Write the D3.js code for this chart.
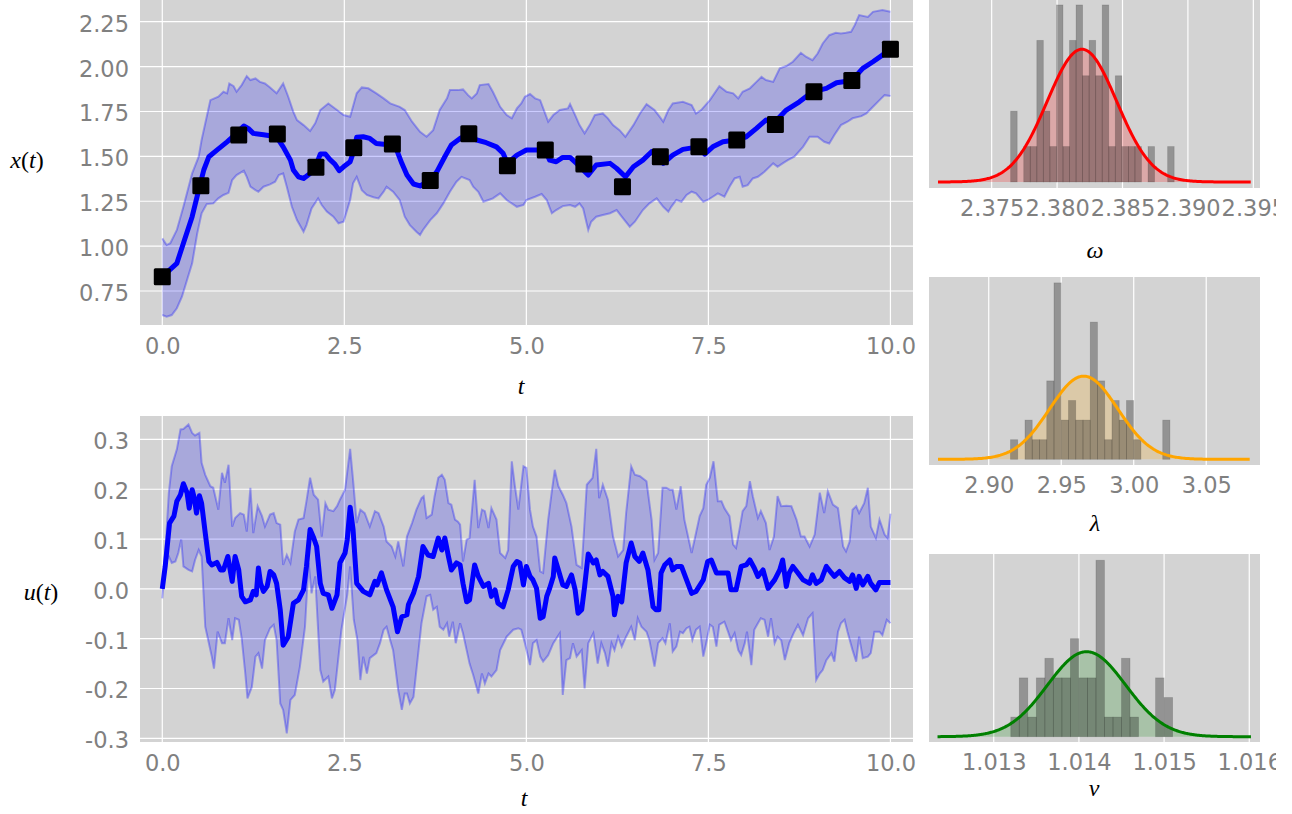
<!DOCTYPE html>
<html>
<head>
<meta charset="utf-8">
<script src="https://cdn.jsdelivr.net/npm/d3@7"></script>
<style>
  body { margin: 0; background: #fff; }
  svg { display: block; }
</style>
</head>
<body>
<svg id="chart" width="1292" height="814"></svg>
<script>
// ---- tick values ----
const tTicks = [0, 2.5, 5, 7.5, 10];
const xTicks = [0.75, 1.0, 1.25, 1.5, 1.75, 2.0, 2.25];
const uTicks = [-0.3, -0.2, -0.1, 0.0, 0.1, 0.2, 0.3];
const omegaTicks = [2.375, 2.380, 2.385, 2.390, 2.395];
const lambdaTicks = [2.90, 2.95, 3.00, 3.05];
const vTicks = [1.013, 1.014, 1.015, 1.016];

// ---- state x(t): [t, value] ----
const xMean = [[0,0.83],[0.2,0.904],[0.29,1.016],[0.41,1.164],[0.5,1.312],[0.57,1.424],[0.64,1.498],[0.75,1.535],[0.89,1.581],[1.02,1.628],[1.12,1.669],[1.18,1.656],[1.25,1.628],[1.39,1.62],[1.57,1.609],[1.66,1.553],[1.76,1.479],[1.8,1.424],[1.87,1.386],[1.94,1.377],[2.03,1.405],[2.1,1.439],[2.17,1.513],[2.24,1.513],[2.3,1.483],[2.37,1.457],[2.43,1.42],[2.49,1.442],[2.58,1.47],[2.63,1.53],[2.67,1.606],[2.76,1.609],[2.85,1.6],[2.94,1.572],[3.04,1.568],[3.15,1.568],[3.22,1.535],[3.29,1.461],[3.36,1.396],[3.45,1.346],[3.54,1.335],[3.68,1.368],[3.77,1.414],[3.88,1.498],[3.97,1.563],[4.09,1.6],[4.2,1.619],[4.32,1.591],[4.45,1.576],[4.59,1.553],[4.68,1.517],[4.74,1.461],[4.87,1.507],[5.0,1.535],[5.09,1.535],[5.26,1.535],[5.32,1.479],[5.41,1.47],[5.5,1.494],[5.6,1.494],[5.69,1.461],[5.85,1.396],[5.96,1.452],[6.15,1.461],[6.24,1.433],[6.36,1.386],[6.47,1.442],[6.6,1.479],[6.72,1.526],[6.83,1.498],[6.88,1.461],[7.01,1.507],[7.15,1.539],[7.36,1.553],[7.45,1.513],[7.56,1.553],[7.7,1.581],[7.88,1.591],[8.02,1.609],[8.16,1.656],[8.29,1.702],[8.41,1.69],[8.57,1.758],[8.75,1.804],[8.93,1.86],[9.12,1.879],[9.26,1.91],[9.47,1.923],[9.62,1.99],[9.76,2.027],[9.89,2.064],[10,2.097]];
const xUpper = [[0,1.043],[0.06,1.006],[0.11,1.016],[0.2,1.09],[0.29,1.219],[0.41,1.405],[0.5,1.498],[0.54,1.591],[0.66,1.813],[0.77,1.832],[0.84,1.86],[0.89,1.851],[0.92,1.906],[0.98,1.891],[1.02,1.86],[1.09,1.897],[1.16,1.947],[1.21,1.925],[1.28,1.934],[1.34,1.915],[1.41,1.906],[1.48,1.884],[1.57,1.851],[1.66,1.906],[1.73,1.832],[1.8,1.748],[1.85,1.702],[1.94,1.674],[2.03,1.641],[2.1,1.684],[2.17,1.758],[2.28,1.795],[2.4,1.758],[2.49,1.73],[2.58,1.721],[2.67,1.851],[2.74,1.884],[2.83,1.879],[2.94,1.851],[3.04,1.823],[3.13,1.795],[3.26,1.776],[3.33,1.758],[3.43,1.693],[3.54,1.637],[3.63,1.609],[3.72,1.646],[3.81,1.758],[3.91,1.823],[3.95,1.869],[4.06,1.869],[4.13,1.873],[4.2,1.841],[4.25,1.823],[4.32,1.851],[4.36,1.897],[4.48,1.903],[4.54,1.86],[4.64,1.776],[4.73,1.73],[4.8,1.712],[4.87,1.767],[4.93,1.795],[4.98,1.832],[5.05,1.847],[5.12,1.823],[5.19,1.813],[5.3,1.693],[5.37,1.73],[5.46,1.758],[5.57,1.767],[5.6,1.791],[5.67,1.73],[5.73,1.674],[5.8,1.628],[5.87,1.674],[5.94,1.73],[6.05,1.739],[6.12,1.712],[6.19,1.674],[6.28,1.646],[6.36,1.609],[6.47,1.674],[6.56,1.739],[6.65,1.791],[6.76,1.758],[6.83,1.721],[6.88,1.693],[6.95,1.758],[7.01,1.795],[7.15,1.804],[7.27,1.786],[7.33,1.739],[7.4,1.758],[7.52,1.813],[7.65,1.891],[7.75,1.86],[7.84,1.851],[7.91,1.823],[7.97,1.86],[8.07,1.879],[8.16,1.915],[8.23,1.943],[8.29,1.925],[8.39,1.915],[8.48,1.99],[8.57,2.003],[8.66,2.027],[8.77,2.077],[8.84,2.055],[8.93,2.036],[9,2.073],[9.07,2.129],[9.16,2.175],[9.25,2.188],[9.32,2.185],[9.39,2.188],[9.46,2.194],[9.51,2.231],[9.57,2.287],[9.69,2.277],[9.76,2.305],[9.89,2.315],[10,2.305]];
const xLower = [[0,0.616],[0.06,0.607],[0.13,0.616],[0.2,0.654],[0.27,0.718],[0.34,0.811],[0.41,0.904],[0.48,1.071],[0.54,1.183],[0.61,1.234],[0.7,1.238],[0.77,1.266],[0.84,1.285],[0.91,1.297],[0.96,1.368],[1.02,1.396],[1.12,1.42],[1.16,1.386],[1.21,1.331],[1.28,1.312],[1.32,1.303],[1.39,1.331],[1.48,1.344],[1.55,1.359],[1.6,1.396],[1.66,1.405],[1.71,1.331],[1.78,1.219],[1.85,1.145],[1.94,1.08],[1.98,1.117],[2.05,1.21],[2.14,1.266],[2.19,1.229],[2.26,1.192],[2.35,1.164],[2.42,1.127],[2.49,1.136],[2.58,1.257],[2.62,1.35],[2.67,1.386],[2.74,1.312],[2.81,1.285],[2.9,1.272],[2.97,1.266],[3.04,1.303],[3.08,1.331],[3.17,1.303],[3.26,1.257],[3.33,1.164],[3.4,1.117],[3.49,1.08],[3.54,1.062],[3.58,1.09],[3.68,1.145],[3.77,1.183],[3.86,1.238],[3.95,1.303],[4.04,1.359],[4.11,1.386],[4.22,1.368],[4.27,1.331],[4.34,1.303],[4.41,1.247],[4.48,1.257],[4.54,1.266],[4.64,1.294],[4.73,1.257],[4.87,1.219],[4.96,1.229],[5.0,1.257],[5.12,1.275],[5.21,1.29],[5.28,1.257],[5.35,1.183],[5.41,1.201],[5.5,1.223],[5.6,1.229],[5.67,1.219],[5.73,1.238],[5.78,1.21],[5.85,1.09],[5.89,1.136],[5.96,1.164],[6.05,1.173],[6.15,1.183],[6.24,1.201],[6.31,1.164],[6.42,1.108],[6.49,1.136],[6.6,1.201],[6.69,1.238],[6.79,1.266],[6.88,1.219],[6.95,1.192],[6.99,1.219],[7.06,1.257],[7.13,1.247],[7.2,1.285],[7.27,1.303],[7.33,1.294],[7.43,1.247],[7.49,1.257],[7.56,1.275],[7.63,1.294],[7.72,1.275],[7.79,1.331],[7.86,1.377],[7.93,1.386],[7.97,1.331],[8.04,1.34],[8.11,1.377],[8.18,1.386],[8.27,1.414],[8.39,1.461],[8.45,1.442],[8.52,1.461],[8.59,1.479],[8.68,1.498],[8.8,1.553],[8.89,1.609],[9.0,1.609],[9.09,1.581],[9.16,1.572],[9.23,1.619],[9.32,1.674],[9.41,1.693],[9.48,1.712],[9.6,1.724],[9.67,1.739],[9.76,1.776],[9.85,1.813],[9.92,1.841],[10,1.836]];
// observations (black squares)
const obsT = [0,0.53,1.05,1.58,2.11,2.63,3.16,3.68,4.21,4.74,5.26,5.79,6.32,6.84,7.37,7.89,8.42,8.95,9.47,10];
const obsX = [0.83,1.336,1.619,1.624,1.439,1.548,1.569,1.366,1.626,1.448,1.535,1.457,1.331,1.498,1.553,1.591,1.678,1.86,1.923,2.097];

// ---- control u(t): [t, value] ----
const uMean = [[0,0],[0.04,0.045],[0.1,0.132],[0.16,0.146],[0.2,0.176],[0.25,0.189],[0.29,0.211],[0.34,0.193],[0.37,0.162],[0.41,0.199],[0.44,0.182],[0.47,0.152],[0.51,0.187],[0.54,0.172],[0.59,0.112],[0.64,0.055],[0.68,0.048],[0.75,0.053],[0.8,0.038],[0.84,0.038],[0.9,0.065],[0.96,0.015],[1.0,0.065],[1.05,0.038],[1.09,-0.015],[1.14,-0.026],[1.21,-0.022],[1.25,-0.005],[1.29,-0.012],[1.32,0.042],[1.35,0.011],[1.39,-0.005],[1.44,0.005],[1.48,0.035],[1.53,0.028],[1.57,0.011],[1.62,-0.042],[1.66,-0.113],[1.73,-0.096],[1.8,-0.029],[1.87,-0.022],[1.94,-0.002],[1.98,0.045],[2.03,0.119],[2.08,0.102],[2.12,0.085],[2.17,0.011],[2.21,-0.009],[2.28,-0.012],[2.33,-0.039],[2.4,-0.012],[2.44,0.052],[2.51,0.072],[2.54,0.099],[2.58,0.164],[2.62,0.119],[2.67,0.011],[2.76,-0.005],[2.85,-0.012],[2.92,0.015],[2.95,0.008],[3.01,0.032],[3.08,-0.002],[3.17,-0.036],[3.23,-0.086],[3.29,-0.056],[3.36,-0.052],[3.38,-0.032],[3.45,-0.009],[3.52,0.025],[3.58,0.085],[3.65,0.068],[3.72,0.065],[3.79,0.102],[3.84,0.078],[3.88,0.102],[3.93,0.065],[3.97,0.038],[4.04,0.052],[4.09,0.048],[4.13,0.011],[4.18,-0.026],[4.22,-0.022],[4.29,0.048],[4.34,0.025],[4.41,0.005],[4.48,0.011],[4.52,-0.015],[4.57,-0.002],[4.61,-0.029],[4.68,-0.036],[4.75,-0.002],[4.82,0.045],[4.87,0.055],[4.91,0.052],[4.96,0.008],[5.0,0.045],[5.05,0.025],[5.09,0.018],[5.14,0.001],[5.19,-0.059],[5.23,-0.056],[5.28,-0.015],[5.32,0.001],[5.37,0.025],[5.39,0.062],[5.44,0.038],[5.5,0.008],[5.55,0.005],[5.62,0.028],[5.67,-0.002],[5.71,-0.049],[5.76,-0.042],[5.8,0.005],[5.85,0.07],[5.92,0.052],[5.96,0.058],[6.01,0.028],[6.05,0.035],[6.12,0.025],[6.19,-0.015],[6.21,-0.052],[6.26,-0.015],[6.31,-0.026],[6.37,0.052],[6.44,0.092],[6.49,0.065],[6.55,0.055],[6.6,0.072],[6.67,0.038],[6.74,-0.036],[6.78,-0.042],[6.82,-0.042],[6.85,0.032],[6.9,0.048],[6.97,0.058],[7.01,0.038],[7.06,0.045],[7.13,0.045],[7.2,0.018],[7.27,-0.009],[7.33,-0.005],[7.43,0.018],[7.49,0.055],[7.54,0.058],[7.61,0.032],[7.68,0.032],[7.77,0.032],[7.81,-0.002],[7.88,-0.002],[7.95,0.045],[8.02,0.048],[8.07,0.058],[8.13,0.042],[8.18,0.025],[8.25,0.038],[8.32,0.001],[8.41,0.018],[8.48,0.038],[8.52,0.058],[8.57,0.005],[8.61,0.032],[8.66,0.045],[8.73,0.032],[8.8,0.018],[8.89,0.011],[8.93,0.028],[8.98,0.011],[9.05,0.018],[9.12,0.045],[9.19,0.032],[9.23,0.025],[9.3,0.035],[9.37,0.022],[9.44,0.015],[9.48,0.028],[9.53,0.001],[9.57,0.025],[9.62,0.008],[9.69,0.025],[9.73,0.011],[9.8,-0.002],[9.85,0.013],[9.92,0.013],[10,0.013]];
const uUpper = [[0,0],[0.04,0.072],[0.09,0.193],[0.13,0.246],[0.2,0.28],[0.25,0.32],[0.29,0.321],[0.36,0.33],[0.41,0.313],[0.45,0.308],[0.51,0.313],[0.54,0.253],[0.59,0.229],[0.66,0.206],[0.7,0.203],[0.77,0.159],[0.82,0.233],[0.86,0.213],[0.91,0.249],[0.96,0.125],[1.0,0.142],[1.07,0.152],[1.12,0.149],[1.16,0.115],[1.21,0.203],[1.25,0.112],[1.31,0.166],[1.37,0.146],[1.41,0.125],[1.48,0.149],[1.53,0.152],[1.57,0.132],[1.62,0.129],[1.66,0.048],[1.71,0.068],[1.76,0.052],[1.82,0.115],[1.87,0.139],[1.94,0.142],[1.98,0.176],[2.03,0.223],[2.08,0.189],[2.14,0.179],[2.19,0.105],[2.24,0.172],[2.28,0.159],[2.35,0.156],[2.4,0.166],[2.44,0.179],[2.51,0.199],[2.58,0.281],[2.62,0.219],[2.67,0.132],[2.72,0.159],[2.78,0.152],[2.85,0.125],[2.92,0.156],[2.97,0.152],[3.04,0.125],[3.08,0.095],[3.15,0.085],[3.2,0.065],[3.24,0.095],[3.31,0.045],[3.36,0.105],[3.43,0.132],[3.49,0.159],[3.56,0.182],[3.59,0.186],[3.63,0.142],[3.7,0.149],[3.74,0.186],[3.79,0.223],[3.84,0.229],[3.88,0.219],[3.93,0.172],[3.97,0.169],[4.02,0.139],[4.06,0.135],[4.09,0.129],[4.13,0.055],[4.18,0.099],[4.22,0.102],[4.29,0.219],[4.34,0.122],[4.39,0.159],[4.43,0.156],[4.48,0.122],[4.52,0.162],[4.59,0.139],[4.64,0.072],[4.71,0.062],[4.75,0.078],[4.8,0.256],[4.84,0.209],[4.89,0.159],[4.96,0.246],[5.0,0.243],[5.05,0.159],[5.09,0.125],[5.14,0.105],[5.19,0.035],[5.23,0.032],[5.3,0.139],[5.35,0.196],[5.39,0.239],[5.44,0.206],[5.5,0.189],[5.55,0.172],[5.62,0.125],[5.69,0.048],[5.76,0.042],[5.83,0.209],[5.91,0.223],[5.96,0.281],[6.0,0.182],[6.05,0.209],[6.12,0.179],[6.19,0.105],[6.26,0.065],[6.33,0.078],[6.37,0.152],[6.44,0.246],[6.49,0.229],[6.56,0.226],[6.65,0.216],[6.72,0.139],[6.76,0.058],[6.81,0.072],[6.87,0.203],[6.92,0.203],[6.97,0.199],[7.01,0.199],[7.06,0.159],[7.12,0.206],[7.17,0.139],[7.27,0.072],[7.33,0.112],[7.38,0.146],[7.43,0.162],[7.47,0.209],[7.52,0.223],[7.57,0.256],[7.63,0.176],[7.68,0.176],[7.72,0.162],[7.79,0.146],[7.84,0.089],[7.88,0.082],[7.93,0.122],[7.97,0.156],[8.02,0.166],[8.07,0.216],[8.11,0.186],[8.18,0.142],[8.22,0.156],[8.29,0.132],[8.34,0.078],[8.4,0.105],[8.45,0.186],[8.5,0.166],[8.57,0.167],[8.64,0.166],[8.71,0.139],[8.77,0.105],[8.82,0.105],[8.89,0.085],[8.96,0.109],[9.03,0.193],[9.09,0.152],[9.14,0.196],[9.21,0.169],[9.28,0.162],[9.35,0.085],[9.39,0.075],[9.44,0.095],[9.48,0.159],[9.53,0.166],[9.57,0.152],[9.64,0.172],[9.69,0.203],[9.73,0.125],[9.8,0.102],[9.85,0.139],[9.92,0.109],[9.96,0.102],[10,0.151]];
const uLower = [[0,-0.019],[0.04,0.052],[0.09,0.065],[0.13,0.052],[0.18,0.055],[0.22,0.072],[0.26,0.099],[0.29,0.045],[0.36,0.038],[0.41,0.035],[0.45,0.058],[0.5,0.078],[0.54,0.065],[0.59,-0.076],[0.64,-0.109],[0.68,-0.136],[0.71,-0.16],[0.76,-0.086],[0.82,-0.109],[0.86,-0.109],[0.91,-0.059],[0.96,-0.103],[1.0,-0.059],[1.05,-0.062],[1.09,-0.099],[1.14,-0.17],[1.17,-0.22],[1.23,-0.197],[1.28,-0.136],[1.32,-0.129],[1.37,-0.16],[1.41,-0.103],[1.48,-0.079],[1.53,-0.072],[1.57,-0.103],[1.62,-0.23],[1.66,-0.243],[1.71,-0.29],[1.76,-0.223],[1.82,-0.213],[1.89,-0.156],[1.96,-0.076],[2.01,0.052],[2.05,-0.009],[2.1,0.025],[2.17,-0.163],[2.21,-0.186],[2.28,-0.176],[2.33,-0.22],[2.37,-0.203],[2.42,-0.136],[2.46,-0.082],[2.54,-0.012],[2.58,0.045],[2.63,-0.062],[2.68,-0.103],[2.72,-0.183],[2.76,-0.136],[2.81,-0.17],[2.85,-0.139],[2.94,-0.129],[2.99,-0.109],[3.04,-0.082],[3.08,-0.076],[3.13,-0.103],[3.17,-0.123],[3.24,-0.203],[3.29,-0.243],[3.33,-0.21],[3.36,-0.21],[3.4,-0.23],[3.45,-0.217],[3.49,-0.163],[3.56,-0.069],[3.63,-0.015],[3.68,-0.012],[3.72,-0.042],[3.77,-0.036],[3.81,-0.076],[3.86,-0.082],[3.91,-0.069],[3.94,-0.096],[3.99,-0.066],[4.03,-0.109],[4.09,-0.069],[4.13,-0.089],[4.18,-0.123],[4.22,-0.15],[4.27,-0.173],[4.34,-0.21],[4.39,-0.17],[4.43,-0.19],[4.48,-0.17],[4.52,-0.176],[4.59,-0.163],[4.64,-0.123],[4.73,-0.096],[4.82,-0.082],[4.89,-0.079],[4.93,-0.082],[4.98,-0.109],[5.05,-0.153],[5.09,-0.109],[5.14,-0.103],[5.19,-0.136],[5.23,-0.146],[5.3,-0.133],[5.37,-0.109],[5.46,-0.089],[5.5,-0.213],[5.55,-0.143],[5.6,-0.139],[5.64,-0.109],[5.69,-0.136],[5.76,-0.123],[5.8,-0.2],[5.85,-0.109],[5.92,-0.089],[5.98,-0.15],[6.03,-0.109],[6.08,-0.129],[6.12,-0.156],[6.17,-0.109],[6.21,-0.123],[6.26,-0.096],[6.31,-0.116],[6.37,-0.096],[6.44,-0.076],[6.49,-0.103],[6.53,-0.059],[6.58,-0.076],[6.65,-0.086],[6.69,-0.103],[6.76,-0.156],[6.81,-0.109],[6.87,-0.099],[6.91,-0.109],[6.97,-0.069],[7.01,-0.126],[7.06,-0.116],[7.11,-0.086],[7.15,-0.089],[7.2,-0.079],[7.24,-0.076],[7.28,-0.103],[7.33,-0.082],[7.38,-0.076],[7.43,-0.136],[7.47,-0.109],[7.52,-0.072],[7.56,-0.076],[7.61,-0.116],[7.65,-0.072],[7.72,-0.066],[7.77,-0.086],[7.81,-0.103],[7.86,-0.089],[7.91,-0.123],[7.95,-0.133],[8.0,-0.109],[8.03,-0.086],[8.09,-0.153],[8.13,-0.082],[8.18,-0.069],[8.22,-0.059],[8.27,-0.062],[8.32,-0.096],[8.36,-0.059],[8.41,-0.109],[8.45,-0.096],[8.5,-0.103],[8.55,-0.143],[8.61,-0.109],[8.68,-0.086],[8.73,-0.072],[8.8,-0.093],[8.87,-0.059],[8.93,-0.049],[8.98,-0.183],[9.03,-0.17],[9.07,-0.163],[9.12,-0.143],[9.19,-0.129],[9.23,-0.146],[9.28,-0.086],[9.32,-0.069],[9.37,-0.062],[9.41,-0.086],[9.48,-0.123],[9.53,-0.146],[9.57,-0.096],[9.62,-0.139],[9.69,-0.136],[9.73,-0.129],[9.78,-0.086],[9.85,-0.086],[9.89,-0.093],[9.95,-0.062],[10,-0.069]];

// ---- parameter posteriors: histogram counts + fitted normal ----
const omegaBins = {start: 2.37645, width: 0.0005, n: 50};
const omegaCounts = [2,0,1,1,4,2,1,5,1,4,5,3,4,3,5,1,3,1,1,1,0,1,0,0,1];
const omegaFit = {mu: 2.3819, sigma: 0.00266};

const lambdaBins = {start: 2.915, width: 0.005, n: 50};
const lambdaCounts = [1,0,2,1,1,4,9,2,3,2,2,7,4,1,3,2,3,1,0,0,0,2];
const lambdaFit = {mu: 2.9655, sigma: 0.0235};

const vBins = {start: 1.0132, width: 0.0001, n: 50};
const vCounts = [1,3,1,3,4,3,3,5,3,3,9,1,1,4,1,0,0,3,2];
const vFit = {mu: 1.01409, sigma: 0.00046};

const svg = d3.select("#chart");
const TICK_COLOR = "#808080";
const MATH_FONT = "'Liberation Serif', 'DejaVu Serif', serif";

function styleTicks(sel) {
  sel.select(".domain").remove();
  sel.selectAll("text")
    .attr("font-size", 22.5)
    .attr("font-family", "'DejaVu Sans', sans-serif")
    .attr("fill", TICK_COLOR);
}

// 数学风格的轴标签, parts = [[text, italic], ...]
function mathLabel(x, y, parts) {
  const t = svg.append("text")
    .attr("x", x).attr("y", y)
    .attr("text-anchor", "middle")
    .attr("font-family", MATH_FONT)
    .attr("font-size", 24)
    .attr("fill", "#000");
  parts.forEach(p => t.append("tspan").attr("font-style", p[1] ? "italic" : "normal").text(p[0]));
}

function seriesPanel(p) {
  const x = d3.scaleLinear().domain([-0.306, 10.31]).range([p.left, p.right]);
  const y = d3.scaleLinear().domain(p.yDomain).range([p.bottom, p.top]);
  const g = svg.append("g");

  g.append("rect")
    .attr("x", p.left).attr("y", p.top)
    .attr("width", p.right - p.left).attr("height", p.bottom - p.top)
    .attr("fill", "#d3d3d3");

  g.selectAll(".hgrid").data(p.yTicks).enter().append("line")
    .attr("x1", p.left).attr("x2", p.right)
    .attr("y1", d => y(d)).attr("y2", d => y(d))
    .attr("stroke", "#fff").attr("stroke-width", 1.2);
  g.selectAll(".vgrid").data(tTicks).enter().append("line")
    .attr("x1", d => x(d)).attr("x2", d => x(d))
    .attr("y1", p.top).attr("y2", p.bottom)
    .attr("stroke", "#fff").attr("stroke-width", 1.2);

  const line = d3.line().x(d => x(d[0])).y(d => y(d[1]));

  // 置信带
  g.append("path")
    .attr("d", line(p.upper.concat(p.lower.slice().reverse())) + "Z")
    .attr("fill", "blue").attr("fill-opacity", 0.2);
  [p.upper, p.lower].forEach(b => {
    g.append("path").attr("d", line(b))
      .attr("fill", "none").attr("stroke", "blue")
      .attr("stroke-opacity", 0.3).attr("stroke-width", 2);
  });

  g.append("path").attr("d", line(p.mean))
    .attr("fill", "none").attr("stroke", "blue")
    .attr("stroke-width", 5).attr("stroke-linejoin", "round");

  if (p.obsT) {
    g.selectAll(".obs").data(p.obsT).enter().append("rect")
      .attr("x", d => x(d) - 8.5).attr("y", (d, i) => y(p.obsV[i]) - 8.5)
      .attr("width", 17).attr("height", 17).attr("rx", 1.5)
      .attr("fill", "#000");
  }

  g.append("g").attr("transform", `translate(0,${p.bottom})`)
    .call(d3.axisBottom(x).tickValues(tTicks).tickFormat(d => d.toFixed(1)).tickSize(0).tickPadding(13))
    .call(styleTicks);
  g.append("g").attr("transform", `translate(${p.left},0)`)
    .call(d3.axisLeft(y).tickValues(p.yTicks).tickFormat(d => d.toFixed(p.digits)).tickSize(0).tickPadding(11))
    .call(styleTicks)
    .selectAll("text").attr("dy", "0.42em");
}

function histPanel(p) {
  const x = d3.scaleLinear().domain(p.xDomain).range([929, 1260]);
  const y = d3.scaleLinear().domain(p.yDomain).range([p.bottom, p.top]);
  const g = svg.append("g");

  g.append("rect")
    .attr("x", 929).attr("y", p.top)
    .attr("width", 331).attr("height", p.bottom - p.top)
    .attr("fill", "#d3d3d3");
  g.selectAll(".vgrid").data(p.ticks).enter().append("line")
    .attr("x1", d => x(d)).attr("x2", d => x(d))
    .attr("y1", p.top).attr("y2", p.bottom)
    .attr("stroke", "#fff").attr("stroke-width", 1.2);

  // 正态拟合: 曲线下方填充
  const xs = x.ticks(300).filter(v => x(v) >= 937 && x(v) <= 1251);
  const pdf = v => Math.exp(-0.5 * ((v - p.fit.mu) / p.fit.sigma) ** 2) / (p.fit.sigma * Math.sqrt(2 * Math.PI));
  g.append("path")
    .attr("d", d3.area().x(d => x(d)).y0(y(0)).y1(d => y(pdf(d)))(xs))
    .attr("fill", p.color).attr("fill-opacity", 0.2);

  // 直方图 (density)
  const b = p.bins;
  const dens = c => c / (b.n * b.width);
  g.selectAll(".bar")
    .data(p.counts.map((c, i) => ({x0: b.start + i * b.width, c})).filter(d => d.c > 0))
    .enter().append("rect")
    .attr("x", d => x(d.x0))
    .attr("width", d => x(d.x0 + b.width) - x(d.x0))
    .attr("y", d => y(dens(d.c)))
    .attr("height", d => y(0) - y(dens(d.c)))
    .attr("fill", "#000").attr("fill-opacity", 0.3)
    .attr("stroke", "#000").attr("stroke-opacity", 0.15).attr("stroke-width", 0.8);

  g.append("path")
    .attr("d", d3.line().x(d => x(d)).y(d => y(pdf(d)))(xs))
    .attr("fill", "none").attr("stroke", p.color).attr("stroke-width", 3);

  g.append("g").attr("transform", `translate(0,${p.bottom})`)
    .attr("clip-path", "url(#labelClip)")
    .call(d3.axisBottom(x).tickValues(p.ticks).tickFormat(d => d.toFixed(p.digits)).tickSize(0).tickPadding(12))
    .call(styleTicks);
}

svg.append("clipPath").attr("id", "labelClip")
  .append("rect").attr("x", -2000).attr("y", -2000).attr("width", 3276).attr("height", 4000);

seriesPanel({left: 140, right: 913, top: 0, bottom: 325, yDomain: [0.5606, 2.371],
  yTicks: xTicks, digits: 2, mean: xMean, upper: xUpper, lower: xLower, obsT: obsT, obsV: obsX});
seriesPanel({left: 140, right: 913, top: 416, bottom: 742, yDomain: [-0.3074, 0.347],
  yTicks: uTicks, digits: 1, mean: uMean, upper: uUpper, lower: uLower});

histPanel({top: 0, bottom: 188, xDomain: [2.37021, 2.39551], yDomain: [-6.8, 205.6],
  ticks: omegaTicks, digits: 3, bins: omegaBins, counts: omegaCounts, fit: omegaFit, color: "red"});
histPanel({top: 277, bottom: 465, xDomain: [2.8588, 3.0871], yDomain: [-1.16, 37.2],
  ticks: lambdaTicks, digits: 2, bins: lambdaBins, counts: lambdaCounts, fit: lambdaFit, color: "orange"});
histPanel({top: 554, bottom: 742, xDomain: [1.012240, 1.016126], yDomain: [-54, 1864],
  ticks: vTicks, digits: 3, bins: vBins, counts: vCounts, fit: vFit, color: "green"});

// 轴标签
mathLabel(27, 168, [["x", true], ["(", false], ["t", true], [")", false]]);
mathLabel(41, 600, [["u", true], ["(", false], ["t", true], [")", false]]);
mathLabel(521, 394, [["t", true]]);
mathLabel(524, 806, [["t", true]]);
mathLabel(1095, 258, [["ω", true]]);
mathLabel(1095, 531, [["λ", true]]);
mathLabel(1094, 796, [["v", true]]);
</script>
</body>
</html>
